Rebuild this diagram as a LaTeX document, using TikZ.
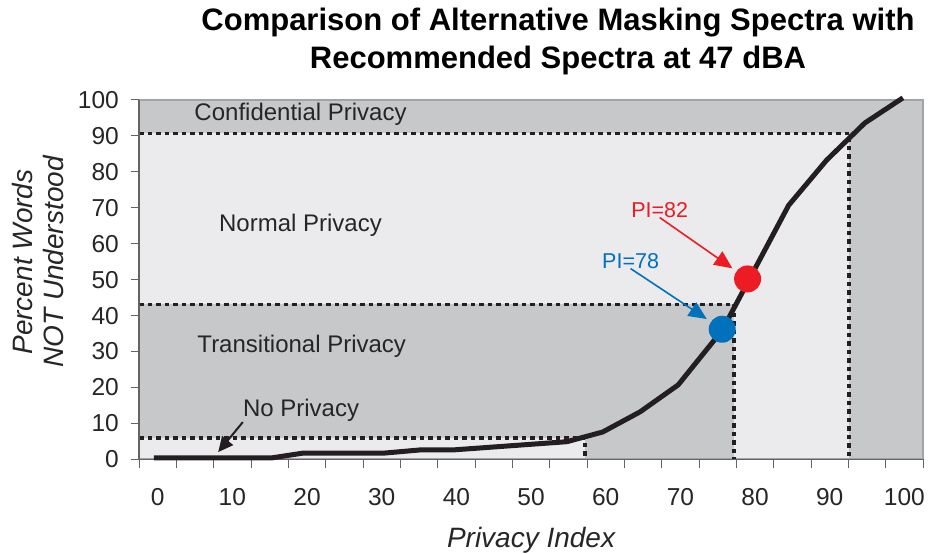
\documentclass[tikz,border=0pt]{standalone}
\usepackage{fontspec}
\setmainfont{Liberation Sans}
\usetikzlibrary{positioning, arrows.meta, calc}
\definecolor{zoneDk}{RGB}{199,200,202}
\definecolor{zoneLt}{RGB}{235,235,237}
\definecolor{frameG}{RGB}{160,163,167}
\definecolor{axisG}{RGB}{100,100,102}
\definecolor{curveK}{RGB}{35,31,32}
\definecolor{piRed}{RGB}{237,28,36}
\definecolor{piBlue}{RGB}{0,114,188}

\begin{document}
\begin{tikzpicture}[x=1pt, y=1pt,
    zonelbl/.style={anchor=base west, inner sep=0pt, text=black!85, font=\fontsize{24}{28}\selectfont},
    ticklbl/.style={inner sep=0pt, text=black!85, font=\fontsize{24.5}{28}\selectfont},
    pilbl/.style={anchor=base west, inner sep=0pt, font=\fontsize{21.5}{25}\selectfont},
    axttl/.style={text=black!85, font=\fontsize{28}{31}\selectfont\itshape, align=center},
    divider/.style={line width=3.5pt, dash pattern=on 4.5pt off 4pt, curveK},
    curve/.style={line width=5pt, curveK, line join=round},
    dot/.style={circle, minimum size=27pt, inner sep=0pt, outer sep=0pt},
    ptr/.style={-{Triangle[length=18pt, width=16pt]}, line width=1.6pt, shorten >=5pt},
    npptr/.style={-{Triangle[length=15pt, width=14pt]}, line width=2pt, curveK}]
  \useasboundingbox (0,0) rectangle (930,554);

  % Title
  \node[font=\fontsize{31}{38}\selectfont\bfseries, align=center] (title) at (558,513)
    {Comparison of Alternative Masking Spectra with\\Recommended Spectra at 47 dBA};

  \begin{scope}[shift={(157.7pt,94.7pt)}, x=7.467pt, y=3.593pt]
    % Privacy zones
    \fill[zoneDk] (-2.5,0) rectangle (102.5,100);
    \fill[zoneLt] (-2.5,0) rectangle (92.6,90.7);
    \fill[zoneDk] (-2.5,0) rectangle (77.2,43.1);
    \fill[zoneLt] (-2.5,0) rectangle (57.2,5.9);
    \draw[frameG, line width=2pt] (-2.5,0) rectangle (102.5,100);

    % Zone borders
    \draw[divider] (-2.5,90.7) -- (92.6,90.7) -- (92.6,0);
    \draw[divider] (-2.5,43.1) -- (77.2,43.1) -- (77.2,0);
    \draw[divider] (-2.5,5.9) -- (57.2,5.9) -- (57.2,0);

    % Axes and ticks
    \draw[axisG, line width=1.5pt] (-2.5,100) -- (-2.5,0) -- (102.5,0);
    \foreach \y in {0,10,...,100} {
      \draw[axisG, line width=1pt] (-2.5,\y) -- ++(-8pt,0);
      \node[ticklbl, left=20pt] (yl\y) at (-2.5,\y) {\y};
    }
    \foreach \k in {0,...,21}
      \draw[axisG, line width=1pt] ({\k*5-2.5},0) -- ++(0,-9pt);
    \foreach \x in {0,10,...,100}
      \node[ticklbl, below=29pt] (xl\x) at (\x,0) {\x};

    % Zone labels
    \node[zonelbl] (conf) at (4.9,94.2) {Confidential Privacy};
    \node[zonelbl] (norm) at (8.2,63.5) {Normal Privacy};
    \node[zonelbl] (trans) at (5.3,29.6) {Transitional Privacy};
    \node[zonelbl] (noprv) at (11.4,11.8) {No Privacy};

    % Intelligibility curve
    \draw[curve] plot coordinates {(-0.5,0.4) (15.3,0.4) (19.4,1.7) (30.2,1.7)
      (35.1,2.6) (39.5,2.6) (54.8,4.9) (59.6,7.6) (64.6,13.2) (69.7,20.7)
      (75.6,35.9) (84.5,70.7) (89.6,83.3) (94.7,93.6) (99.8,100.6)};

    % Spectra points
    \node[dot, fill=piBlue] (blue) at (75.6,36.2) {};
    \node[dot, fill=piRed] (red) at (79.0,50.2) {};
    \node[pilbl, text=piRed] (pi82) at (63.4,67.4) {PI=82};
    \node[pilbl, text=piBlue] (pi78) at (59.5,53.2) {PI=78};
    \draw[ptr, piRed] (pi82.south) -- (red);
    \draw[ptr, piBlue] (pi78.south) -- (blue);

    % No privacy pointer
    \coordinate (np) at (8.1,2.0);
    \draw[npptr] (noprv.south west) -- (np);

    % Axis titles
    \node[axttl] (xttl) at (50,-22.5) {Privacy Index};
  \end{scope}
  \node[axttl, rotate=90] (yttl) at (37.5,292) {Percent Words\\NOT Understood};
\end{tikzpicture}
\end{document}
